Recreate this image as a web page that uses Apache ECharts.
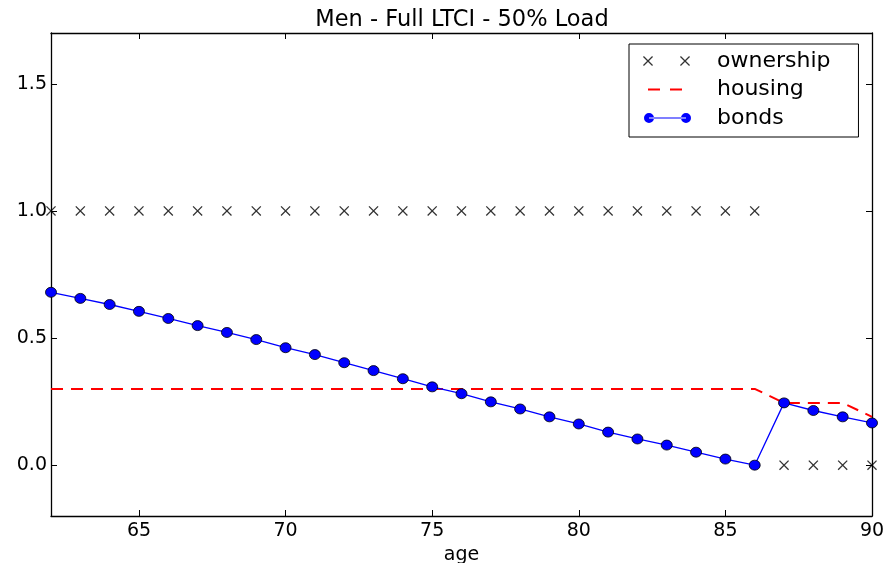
<!DOCTYPE html>
<html>
<head>
<meta charset="utf-8">
<script src="https://cdn.jsdelivr.net/npm/echarts@6/dist/echarts.min.js"></script>
<style>html,body{margin:0;padding:0;background:#fff}#c{width:889px;height:563px}</style>
</head>
<body>
<div id="c"></div>
<script>
// ---- data ----
const ages = [62,63,64,65,66,67,68,69,70,71,72,73,74,75,76,77,78,79,80,81,82,83,84,85,86,87,88,89,90];
const ownership = [1,1,1,1,1,1,1,1,1,1,1,1,1,1,1,1,1,1,1,1,1,1,1,1,1,0,0,0,0];
const housing = [0.3,0.3,0.3,0.3,0.3,0.3,0.3,0.3,0.3,0.3,0.3,0.3,0.3,0.3,0.3,0.3,0.3,0.3,0.3,0.3,0.3,0.3,0.3,0.3,0.3,0.245,0.245,0.245,0.19];
const bonds = [0.68,0.656,0.632,0.605,0.577,0.549,0.522,0.494,0.462,0.435,0.403,0.372,0.34,0.308,0.281,0.249,0.221,0.19,0.162,0.13,0.103,0.079,0.051,0.024,0.0,0.245,0.215,0.19,0.166];
const xTicks = [65,70,75,80,85,90];
const yTicks = [0,0.5,1.0,1.5];
const titleText = 'Men - Full LTCI - 50% Load';
const xName = 'age';

// ---- helpers (styles) ----
function cross(x0,y0,s,t){
  const d=t/Math.SQRT2;
  return `M${x0},${y0+d}L${x0+d},${y0}L${x0+s},${y0+s-d}L${x0+s-d},${y0+s}Z`+
         `M${x0+s-d},${y0}L${x0+s},${y0+d}L${x0+d},${y0+s}L${x0},${y0+s-d}Z`;
}
const IW=69, IH=12;
const bbox = `M0,0L${IW},0ZM0,${IH}L${IW},${IH}Z`;
const markerX = 'path://'+cross(0,0,10,1.3);
const iconOwn = 'path://'+bbox+cross(0,1,10,1.3)+cross(37,1,10,1.3);
const iconHouse = 'path://'+bbox+'M5,5L17,5L17,7L5,7ZM27,5L39,5L39,7L27,7Z';
const iconBonds = 'path://'+bbox+'M6,5.4L43,5.4L43,6.6L6,6.6Z'+
  'M1,6A5,5 0 1,0 11,6A5,5 0 1,0 1,6Z'+'M38,6A5,5 0 1,0 48,6A5,5 0 1,0 38,6Z';

const zip = (xs,ys)=>xs.map((x,i)=>[x,ys[i]]);
const FONT = 'DejaVu Sans';

const chart = echarts.init(document.getElementById('c'), null, {renderer:'canvas'});
const tickStyle = {show:true,inside:true,length:6,lineStyle:{color:'#000',width:1}};
const lineStyleAxis = {show:true,onZero:false,lineStyle:{color:'#000',width:1.3}};
chart.setOption({
  animation:false,
  backgroundColor:'#fff',
  textStyle:{fontFamily:FONT},
  title:{text:titleText,left:457,top:4,textAlign:'center',
    textStyle:{fontFamily:FONT,fontSize:22.5,fontWeight:'normal',color:'#000'}},
  grid:{left:51,right:17,top:33,bottom:47,containLabel:false,outerBoundsMode:'none'},
  legend:{
    orient:'vertical',left:629,top:44,
    padding:[6,28,8,14],
    itemWidth:IW,itemHeight:IH,itemGap:6.5,
    borderColor:'#000',borderWidth:1,backgroundColor:'#fff',
    itemStyle:{borderWidth:0},
    textStyle:{fontFamily:FONT,fontSize:22,color:'#000',lineHeight:20},
    data:[{name:'ownership',icon:iconOwn},{name:'housing',icon:iconHouse},{name:'bonds',icon:iconBonds}]
  },
  xAxis:[
    {type:'value',min:62,max:90,position:'bottom',
      name:xName,nameLocation:'middle',nameGap:26,
      nameTextStyle:{fontFamily:FONT,fontSize:19,color:'#000'},
      axisLine:lineStyleAxis,splitLine:{show:false},
      axisTick:Object.assign({},tickStyle,{customValues:xTicks}),
      axisLabel:{customValues:xTicks,fontFamily:FONT,fontSize:19,color:'#000',margin:6}},
    {type:'value',min:62,max:90,position:'top',
      axisLine:lineStyleAxis,splitLine:{show:false},
      axisTick:Object.assign({},tickStyle,{customValues:xTicks}),
      axisLabel:{show:false}}
  ],
  yAxis:[
    {type:'value',min:-0.2,max:1.7,position:'left',
      axisLine:lineStyleAxis,splitLine:{show:false},
      axisTick:Object.assign({},tickStyle,{customValues:yTicks}),
      axisLabel:{customValues:yTicks,fontFamily:FONT,fontSize:19,color:'#000',margin:4,
        formatter:v=>v.toFixed(1)}},
    {type:'value',min:-0.2,max:1.7,position:'right',
      axisLine:lineStyleAxis,splitLine:{show:false},
      axisTick:Object.assign({},tickStyle,{customValues:yTicks}),
      axisLabel:{show:false}}
  ],
  series:[
    {name:'ownership',type:'scatter',data:zip(ages,ownership),
     symbol:markerX,symbolSize:[10,10],itemStyle:{color:'#000'},z:3},
    {name:'housing',type:'line',data:zip(ages,housing),showSymbol:false,symbol:'none',
     lineStyle:{color:'#ff0000',width:2,type:[12,8]},itemStyle:{color:'#ff0000'},z:2},
    {name:'bonds',type:'line',data:zip(ages,bonds),symbol:'circle',symbolSize:[11,10],
     lineStyle:{color:'#0000ff',width:1.3},
     itemStyle:{color:'#0000ff',borderColor:'#000',borderWidth:0.8},z:4}
  ]
});
</script>
</body>
</html>
